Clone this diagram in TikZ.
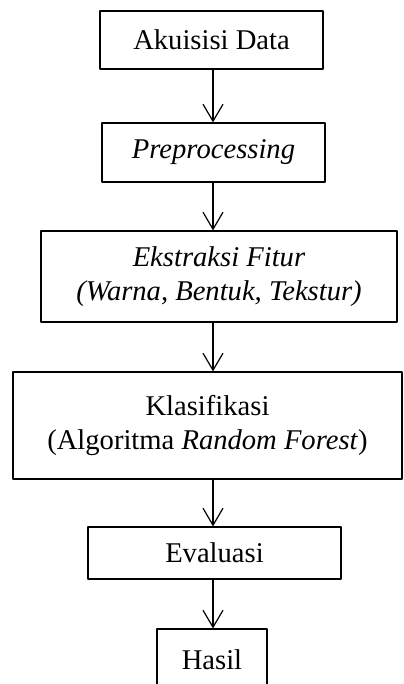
\documentclass[tikz,border=0pt]{standalone}
\usepackage{fontspec}
\setmainfont{Liberation Serif}
\usetikzlibrary{arrows.meta}

\begin{document}
\begin{tikzpicture}[x=0.5pt,y=-0.5pt,line join=round,
  tahap/.style={draw,line width=0.6pt,align=center,inner sep=0pt,
    font=\fontsize{14.3}{17}\selectfont},
  alur/.style={line width=0.6pt,-{Straight Barb[length=8.5pt,width=10pt]}}]
  % page frame: the last box runs off the bottom edge
  \clip (0,0) rectangle (403,684);
  \coordinate (spine) at (213,0);
  % stages, top to bottom
  \node[tahap,minimum width=111.5pt,minimum height=29pt] (akuisisi) at (211.5,40) {Akuisisi Data};
  \node[tahap,minimum width=111.5pt,minimum height=29.5pt] (preproc) at (213.5,152.5) {\textit{Preprocessing}};
  \node[tahap,minimum width=178pt,minimum height=45.5pt] (ekstraksi) at (219,276.5)
    {\textit{Ekstraksi Fitur}\\\textit{(Warna, Bentuk, Tekstur)}};
  \node[tahap,minimum width=194.5pt,minimum height=53.5pt] (klasifikasi) at (207.5,425.5)
    {Klasifikasi\\(Algoritma \textit{Random Forest})};
  \node[tahap,minimum width=126.5pt,minimum height=26pt] (evaluasi) at (214.5,553) {Evaluasi};
  \node[tahap,minimum width=55pt,minimum height=31pt] (hasil) at (212,660) {Hasil};
  % arrows on one vertical line
  \foreach \a/\b in {akuisisi/preproc,preproc/ekstraksi,ekstraksi/klasifikasi,
    klasifikasi/evaluasi,evaluasi/hasil}
    {\draw[alur] (\a.south -| spine) -- (\b.north -| spine);}
\end{tikzpicture}
\end{document}
